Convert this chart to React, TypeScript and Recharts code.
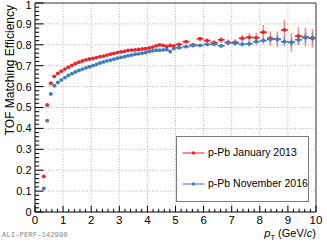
import React from 'react';
import { ScatterChart, Scatter, XAxis, YAxis, ErrorBar, ReferenceLine } from 'recharts';

// bin centres in pT (GeV/c): 0.125 wide below 5, 0.25 wide above
const ptBins = [
  0.3125, 0.4375, 0.5625, 0.6875, 0.8125, 0.9375, 1.0625, 1.1875, 1.3125, 1.4375,
  1.5625, 1.6875, 1.8125, 1.9375, 2.0625, 2.1875, 2.3125, 2.4375, 2.5625, 2.6875,
  2.8125, 2.9375, 3.0625, 3.1875, 3.3125, 3.4375, 3.5625, 3.6875, 3.8125, 3.9375,
  4.0625, 4.1875, 4.3125, 4.4375, 4.5625, 4.6875, 4.8125, 4.9375,
  5.125, 5.375, 5.625, 5.875, 6.125, 6.375, 6.625, 6.875, 7.125, 7.375,
  7.625, 7.875, 8.125, 8.375, 8.625, 8.875, 9.125, 9.375, 9.625, 9.875,
];

const ptHalfWidth = [
  0.0625, 0.0625, 0.0625, 0.0625, 0.0625, 0.0625, 0.0625, 0.0625, 0.0625, 0.0625,
  0.0625, 0.0625, 0.0625, 0.0625, 0.0625, 0.0625, 0.0625, 0.0625, 0.0625, 0.0625,
  0.0625, 0.0625, 0.0625, 0.0625, 0.0625, 0.0625, 0.0625, 0.0625, 0.0625, 0.0625,
  0.0625, 0.0625, 0.0625, 0.0625, 0.0625, 0.0625, 0.0625, 0.0625,
  0.125, 0.125, 0.125, 0.125, 0.125, 0.125, 0.125, 0.125, 0.125, 0.125,
  0.125, 0.125, 0.125, 0.125, 0.125, 0.125, 0.125, 0.125, 0.125, 0.125,
];

// p-Pb January 2013
const effJan2013 = [
  0.170, 0.512, 0.616, 0.649, 0.663, 0.674, 0.684, 0.693, 0.702, 0.710,
  0.717, 0.723, 0.728, 0.732, 0.735, 0.739, 0.743, 0.746, 0.751, 0.755,
  0.759, 0.763, 0.766, 0.769, 0.773, 0.775, 0.776, 0.778, 0.780, 0.781,
  0.785, 0.789, 0.795, 0.800, 0.797, 0.792, 0.797, 0.795,
  0.802, 0.815, 0.800, 0.829, 0.820, 0.810, 0.824, 0.811, 0.812, 0.831,
  0.836, 0.834, 0.860, 0.831, 0.826, 0.871, 0.812, 0.842, 0.837, 0.831,
];
const errJan2013 = [
  0.001, 0.001, 0.001, 0.001, 0.001, 0.001, 0.001, 0.001, 0.001, 0.001,
  0.001, 0.001, 0.001, 0.001, 0.001, 0.001, 0.001, 0.001, 0.001, 0.001,
  0.002, 0.002, 0.002, 0.002, 0.002, 0.002, 0.002, 0.002, 0.003, 0.003,
  0.003, 0.003, 0.003, 0.003, 0.004, 0.004, 0.004, 0.004,
  0.006, 0.008, 0.008, 0.010, 0.010, 0.012, 0.013, 0.014, 0.016, 0.016,
  0.020, 0.024, 0.035, 0.034, 0.038, 0.050, 0.045, 0.042, 0.045, 0.045,
];

// p-Pb November 2016
const effNov2016 = [
  0.113, 0.437, 0.565, 0.604, 0.620, 0.632, 0.643, 0.653, 0.662, 0.670,
  0.677, 0.684, 0.690, 0.695, 0.700, 0.706, 0.713, 0.718, 0.723, 0.727,
  0.731, 0.736, 0.740, 0.743, 0.748, 0.751, 0.755, 0.757, 0.760, 0.763,
  0.768, 0.771, 0.774, 0.774, 0.776, 0.777, 0.768, 0.782,
  0.786, 0.791, 0.796, 0.797, 0.802, 0.803, 0.795, 0.810, 0.808, 0.803,
  0.805, 0.815, 0.820, 0.826, 0.827, 0.815, 0.812, 0.824, 0.834, 0.834,
];
const errNov2016 = [
  0.001, 0.001, 0.001, 0.001, 0.001, 0.001, 0.001, 0.001, 0.001, 0.001,
  0.001, 0.001, 0.001, 0.001, 0.001, 0.001, 0.001, 0.001, 0.001, 0.001,
  0.001, 0.001, 0.001, 0.001, 0.002, 0.002, 0.002, 0.002, 0.002, 0.002,
  0.002, 0.002, 0.002, 0.003, 0.003, 0.003, 0.003, 0.003,
  0.004, 0.005, 0.006, 0.007, 0.008, 0.009, 0.010, 0.011, 0.012, 0.013,
  0.014, 0.015, 0.018, 0.018, 0.020, 0.022, 0.022, 0.024, 0.025, 0.026,
];

const xMajorTicks = [0, 1, 2, 3, 4, 5, 6, 7, 8, 9, 10];
const yMajorTicks = [0, 0.1, 0.2, 0.3, 0.4, 0.5, 0.6, 0.7, 0.8, 0.9, 1];

const RED = '#e8262b';
const BLUE = '#3d7dc2';
const FONT = '"Liberation Sans", Arial, Helvetica, sans-serif';

const janData = ptBins.map((pt, i) => ({ pt, eff: effJan2013[i], xErr: ptHalfWidth[i], yErr: errJan2013[i] }));
const novData = ptBins.map((pt, i) => ({ pt, eff: effNov2016[i], xErr: ptHalfWidth[i], yErr: errNov2016[i] }));

// ROOT style minor divisions: 5 per major on x, 5 per major on y
const xTicks = Array.from({ length: 51 }, (_, i) => Math.round(i * 0.2 * 1000) / 1000);
const yTicks = Array.from({ length: 51 }, (_, i) => Math.round(i * 0.02 * 1000) / 1000);

const isMajor = (v: number, majors: number[]) => majors.some((m) => Math.abs(m - v) < 1e-6);

const YTick = (props: any) => {
  const { x, y, payload } = props;
  const v = payload.value;
  const major = isMajor(v, yMajorTicks);
  // keep the top "1" inside the picture
  const ty = Math.max(y + 3.9, 8.5);
  return (
    <g>
      <line x1={x} x2={x + (major ? 8.5 : 4.2)} y1={y} y2={y} stroke="#000" strokeWidth={1} />
      {major && (
        <text x={x - 3.5} y={ty} textAnchor="end" fontSize={11} fontFamily={FONT} fill="#000">
          {String(Math.round(v * 10) / 10)}
        </text>
      )}
    </g>
  );
};

const XTick = (props: any) => {
  const { x, y, payload } = props;
  const v = payload.value;
  const major = isMajor(v, xMajorTicks);
  return (
    <g>
      <line x1={x} x2={x} y1={y} y2={y - (major ? 6.3 : 3.2)} stroke="#000" strokeWidth={1} />
      {major && (
        <text x={x} y={y + 11.5} textAnchor="middle" fontSize={11.5} fontFamily={FONT} fill="#000">
          {String(v)}
        </text>
      )}
    </g>
  );
};

const dot = (color: string) => (p: any) => <circle cx={p.cx} cy={p.cy} r={1.9} fill={color} />;

const LegendRow = ({ color, label, top }: { color: string; label: string; top: number }) => (
  <div style={{ position: 'absolute', left: 0, top, height: 12, width: '100%' }}>
    <svg width={30} height={12} style={{ position: 'absolute', left: 4, top: 0 }}>
      <line x1={1.5} x2={23.5} y1={6} y2={6} stroke={color} strokeOpacity={0.7} strokeWidth={1.5} />
      <circle cx={12.5} cy={6} r={1.7} fill={color} />
    </svg>
    <span style={{ position: 'absolute', left: 31, top: -1, fontSize: 10.5, fontFamily: FONT, color: '#000', whiteSpace: 'nowrap' }}>
      {label}
    </span>
  </div>
);

export default function App() {
  return (
    <div style={{ position: 'absolute', left: 0, top: 0, width: 327, height: 245, background: '#fff', overflow: 'hidden' }}>
      <ScatterChart width={327} height={245} margin={{ top: 3, right: 11, bottom: 0, left: 0 }}>
        <XAxis
          type="number"
          dataKey="pt"
          domain={[0, 10]}
          ticks={xTicks}
          interval={0}
          allowDataOverflow
          tickSize={0}
          tickMargin={0}
          height={33}
          stroke="#000"
          tick={<XTick />}
          label={{
            content: (p: any) => (
              <text
                x={p.viewBox.x + p.viewBox.width}
                y={p.viewBox.y + 25}
                textAnchor="end"
                fontSize={11}
                fontFamily={FONT}
                fill="#000"
              >
                <tspan fontStyle="italic">p</tspan>
                <tspan fontSize={7.5} dy={2.5}>T</tspan>
                <tspan dy={-2.5}> (GeV/</tspan>
                <tspan fontStyle="italic">c</tspan>
                <tspan>)</tspan>
              </text>
            ),
          }}
        />
        <YAxis
          type="number"
          dataKey="eff"
          domain={[0, 1]}
          ticks={yTicks}
          interval={0}
          allowDataOverflow
          tickSize={0}
          tickMargin={0}
          width={35}
          stroke="#000"
          tick={<YTick />}
          label={{
            content: (p: any) => (
              <text
                x={14}
                y={p.viewBox.y + 2}
                transform={`rotate(-90 14 ${p.viewBox.y + 2})`}
                textAnchor="end"
                fontSize={12}
                fontFamily={FONT}
                fill="#000"
              >
                TOF Matching Efficiency
              </text>
            ),
          }}
        />
        {[1, 2, 3, 4, 5, 6, 7, 8, 9].map((v) => (
          <ReferenceLine key={'gx' + v} x={v} stroke="#b5b5b5" strokeDasharray="1 1.6" />
        ))}
        {[0.1, 0.2, 0.3, 0.4, 0.5, 0.6, 0.7, 0.8, 0.9].map((v) => (
          <ReferenceLine key={'gy' + v} y={v} stroke="#b5b5b5" strokeDasharray="1 1.6" />
        ))}
        <ReferenceLine y={1} stroke="#333" />
        <ReferenceLine x={10} stroke="#333" />
        <Scatter data={janData} fill={RED} shape={dot(RED)} isAnimationActive={false}>
          <ErrorBar dataKey="yErr" direction="y" width={0} stroke={RED} strokeOpacity={0.5} strokeWidth={1.6} />
          <ErrorBar dataKey="xErr" direction="x" width={0} stroke={RED} strokeWidth={1.6} />
        </Scatter>
        <Scatter data={novData} fill={BLUE} shape={dot(BLUE)} isAnimationActive={false}>
          <ErrorBar dataKey="yErr" direction="y" width={0} stroke={BLUE} strokeOpacity={0.5} strokeWidth={1.6} />
          <ErrorBar dataKey="xErr" direction="x" width={0} stroke={BLUE} strokeWidth={1.6} />
        </Scatter>
      </ScatterChart>

      <div
        style={{
          position: 'absolute',
          left: 176,
          top: 136,
          width: 131,
          height: 64,
          background: '#fff',
          border: '1px solid #7a7a7a',
        }}
      >
        <LegendRow color={RED} label="p-Pb January 2013" top={10} />
        <LegendRow color={BLUE} label="p-Pb November 2016" top={41} />
      </div>

      <div
        style={{
          position: 'absolute',
          left: 2,
          top: 231,
          fontSize: 7.3,
          fontFamily: '"Liberation Mono", "DejaVu Sans Mono", monospace',
          color: '#8a8a8a',
          whiteSpace: 'nowrap',
        }}
      >
        ALI-PERF-142998
      </div>
    </div>
  );
}
